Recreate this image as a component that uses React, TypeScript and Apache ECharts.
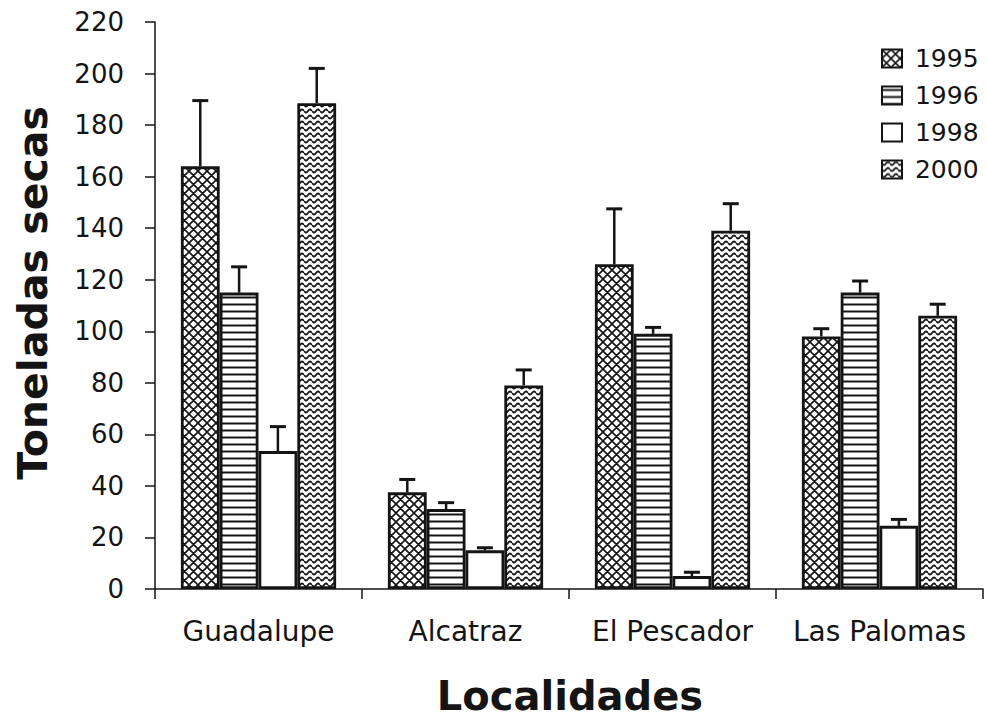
import React, { useEffect, useRef } from "react";
import * as echarts from "echarts";

const categories = ["Guadalupe", "Alcatraz", "El Pescador", "Las Palomas"];
const years = ["1995", "1996", "1998", "2000"];
const v1995 = [164, 37.5, 126, 98];
const e1995 = [25.5, 5, 21.5, 3];
const v1996 = [115, 31, 99, 115];
const e1996 = [10, 2.5, 2.5, 4.5];
const v1998 = [53.5, 15, 5, 24.5];
const e1998 = [9.5, 1, 1.5, 2.5];
const v2000 = [188.5, 79, 139, 106];
const e2000 = [13.5, 6, 10.5, 4.5];
const yTicks = { min: 0, max: 220, interval: 20 };

const INK = "#141414";
const FONT = "DejaVu Sans";

function makePattern(kind: string): any {
  const c = document.createElement("canvas");
  let w = 9, h = 9;
  if (kind === "lines") { w = 8; h = 7; }
  if (kind === "wave") { w = 8; h = 6; }
  c.width = w; c.height = h;
  const ctx = c.getContext("2d")!;
  ctx.fillStyle = "#ffffff";
  ctx.fillRect(0, 0, w, h);
  ctx.strokeStyle = INK;
  if (kind === "cross") {
    ctx.lineWidth = 1.6;
    ctx.beginPath();
    for (let k = -2; k <= 2; k++) {
      ctx.moveTo(-2 + k * w, -2); ctx.lineTo(w + 2 + k * w, h + 2);
      ctx.moveTo(-2 + k * w, h + 2); ctx.lineTo(w + 2 + k * w, -2);
    }
    ctx.stroke();
  } else if (kind === "lines") {
    ctx.lineWidth = 2;
    ctx.beginPath();
    ctx.moveTo(0, 3.5); ctx.lineTo(w, 3.5);
    ctx.stroke();
  } else if (kind === "wave") {
    ctx.lineWidth = 1.8;
    ctx.beginPath();
    for (let x = 0; x <= w; x += 0.5) {
      const y = 3 + 1.5 * Math.sin((2 * Math.PI * x) / w);
      if (x === 0) ctx.moveTo(x, y); else ctx.lineTo(x, y);
    }
    ctx.stroke();
  }
  return { image: c, repeat: "repeat", imageWidth: w, imageHeight: h };
}

export default function App() {
  const ref = useRef<HTMLDivElement>(null);
  useEffect(() => {
    if (!ref.current) return;
    const chart = echarts.init(ref.current, null, { renderer: "svg" });
    const fills = [makePattern("cross"), makePattern("lines"), "#ffffff", makePattern("wave")];
    const vals = [v1995, v1996, v1998, v2000];
    const errs = [e1995, e1996, e1998, e2000];
    const CAT_GAP = 0.25;

    const barSeries = years.map((y, i) => ({
      type: "bar",
      name: y,
      data: vals[i],
      barGap: "0%",
      barCategoryGap: "25%",
      itemStyle: { color: fills[i], borderColor: INK, borderWidth: 2.8 },
      z: 2,
    }));

    const errSeries = years.map((y, i) => ({
      type: "custom",
      name: "err" + y,
      data: vals[i].map((v, j) => [j, v, errs[i][j]]),
      encode: { x: 0, y: 1 },
      z: 3,
      renderItem: (params: any, api: any) => {
        const cat = api.value(0);
        const v = api.value(1);
        const e = api.value(2);
        const base = api.coord([cat, v]);
        const top = api.coord([cat, v + e]);
        const band = api.size([1, 0])[0];
        const bw = (band * (1 - CAT_GAP)) / 4;
        const x = base[0] + (i - 1.5) * bw;
        const st = { stroke: INK, lineWidth: 2.5 };
        return {
          type: "group",
          children: [
            { type: "line", shape: { x1: x, y1: base[1], x2: x, y2: top[1] }, style: st },
            { type: "line", shape: { x1: x - 8, y1: top[1], x2: x + 8, y2: top[1] }, style: { stroke: INK, lineWidth: 3 } },
          ],
        };
      },
    }));

    chart.setOption({
      animation: false,
      backgroundColor: "#ffffff",
      grid: { left: 155, right: 4, top: 22, bottom: 132 },
      legend: {
        data: years,
        orient: "vertical",
        left: 881,
        top: 46,
        padding: 0,
        itemWidth: 20,
        itemHeight: 18,
        itemGap: 12,
        icon: "rect",
        formatter: (n: string) => " " + n,
        textStyle: { fontFamily: FONT, fontSize: 25, color: INK, lineHeight: 25 },
      },
      xAxis: {
        type: "category",
        data: categories,
        axisLine: { lineStyle: { color: INK, width: 1.5 } },
        axisTick: { show: true, length: 10, interval: 0, lineStyle: { color: INK, width: 1.5 } },
        axisLabel: { fontFamily: FONT, fontSize: 28, color: INK, margin: 28, interval: 0 },
      },
      yAxis: {
        type: "value",
        min: yTicks.min,
        max: yTicks.max,
        interval: yTicks.interval,
        splitLine: { show: false },
        axisLine: { show: true, lineStyle: { color: INK, width: 1.5 } },
        axisTick: { show: true, length: 10, lineStyle: { color: INK, width: 1.5 } },
        axisLabel: { fontFamily: FONT, fontSize: 26, color: INK, margin: 31 },
      },
      graphic: [
        {
          type: "text",
          x: 33,
          y: 293,
          rotation: Math.PI / 2,
          style: {
            text: "Toneladas secas",
            fontFamily: FONT,
            fontWeight: "bold",
            fontSize: 41,
            fill: INK,
            align: "center",
            verticalAlign: "middle",
          },
        },
        {
          type: "text",
          x: 570,
          y: 696,
          style: {
            text: "Localidades",
            fontFamily: FONT,
            fontWeight: "bold",
            fontSize: 40,
            fill: INK,
            align: "center",
            verticalAlign: "middle",
          },
        },
      ],
      series: [...barSeries, ...errSeries],
    });
    return () => chart.dispose();
  }, []);
  return (
    <div
      ref={ref}
      style={{ position: "fixed", left: 0, top: 0, width: 987, height: 721, background: "#fff" }}
    />
  );
}
